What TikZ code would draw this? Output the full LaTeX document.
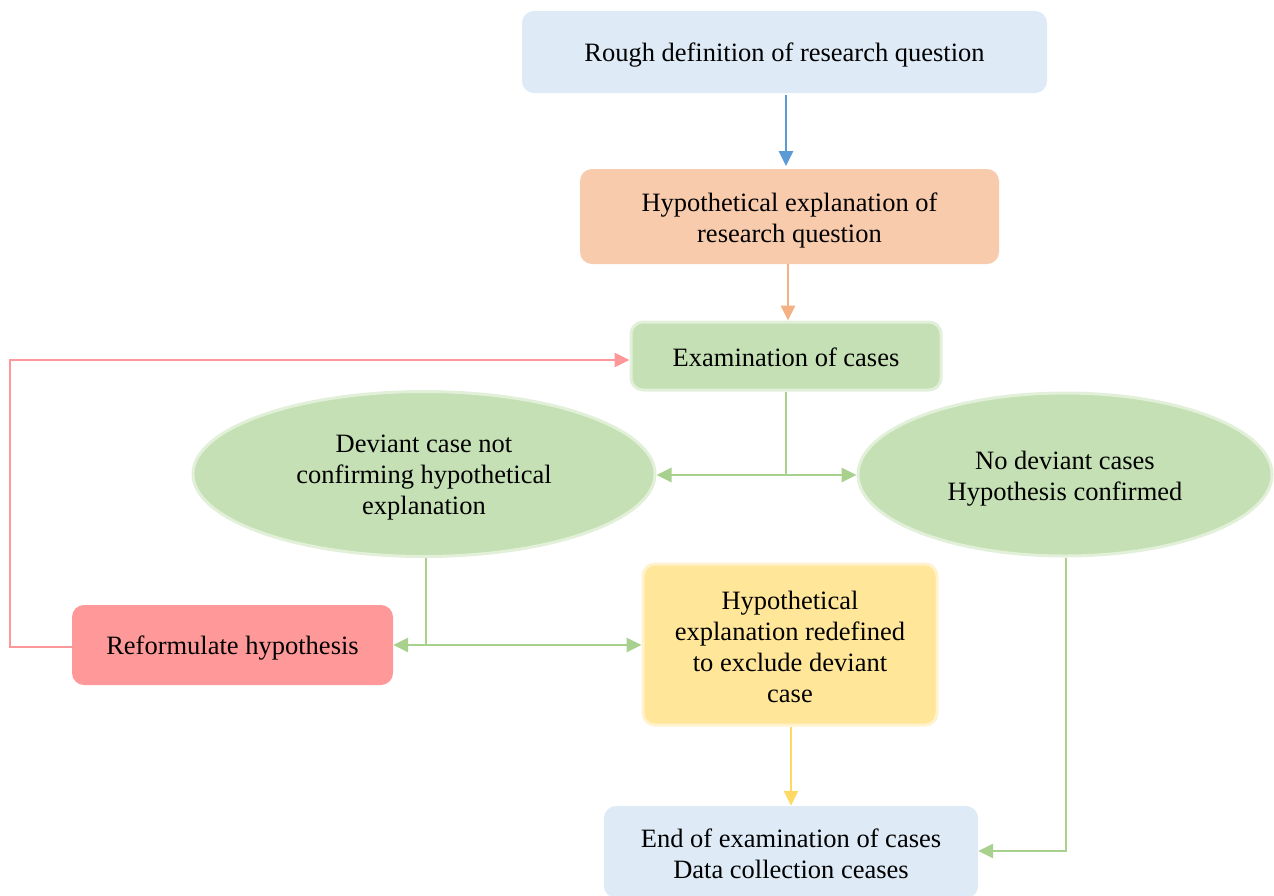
\documentclass[tikz,border=0pt]{standalone}
\usepackage{fontspec}
\setmainfont{Liberation Serif}
\usetikzlibrary{arrows.meta,shapes.geometric}
\definecolor{lblue}{HTML}{DEEAF6}
\definecolor{peach}{HTML}{F8CBAD}
\definecolor{lgreen}{HTML}{C5E0B4}
\definecolor{lgreenb}{HTML}{E2F0D9}
\definecolor{salmon}{HTML}{FF9999}
\definecolor{lyellow}{HTML}{FFE699}
\definecolor{lyellowb}{HTML}{FFF2CC}
\definecolor{ablue}{HTML}{5B9BD5}
\definecolor{aorange}{HTML}{F4B183}
\definecolor{agreen}{HTML}{A9D18E}
\definecolor{ared}{HTML}{FF9999}
\definecolor{ayellow}{HTML}{FFD966}
\begin{document}
\begin{tikzpicture}[x=1pt,y=-1pt,
  every node/.style={inner sep=0pt},
  txt/.style={font=\fontsize{26.5}{31}\selectfont, align=center},
  box/.style={rectangle, rounded corners=12pt},
  ell/.style={ellipse, fill=lgreen, draw=lgreenb, line width=3pt},
  conn/.style={line width=2.8pt, -{Triangle[length=15pt,width=14pt]}},
  conn2/.style={line width=2.8pt, {Triangle[length=15pt,width=14pt]}-{Triangle[length=15pt,width=14pt]}},
  plain/.style={line width=2.8pt}
]
\useasboundingbox (0,0) rectangle (1274,895);
\node[box, fill=lblue, minimum width=525pt, minimum height=82pt] (rough) at (784.5,52) {};
\node[box, fill=peach, minimum width=419pt, minimum height=95pt] (hypo) at (789.5,216.5) {};
\node[box, fill=lgreen, draw=lgreenb, line width=3pt, minimum width=310pt, minimum height=68pt] (exam) at (786,356) {};
\node[ell, minimum width=462pt, minimum height=165pt] (dev) at (424,474) {};
\node[ell, minimum width=414pt, minimum height=163pt] (nodev) at (1065,474.5) {};
\node[box, fill=salmon, minimum width=321pt, minimum height=80pt] (reform) at (232.5,645) {};
\node[box, fill=lyellow, draw=lyellowb, line width=3pt, minimum width=294pt, minimum height=161pt] (redef) at (790,644.5) {};
\node[box, fill=lblue, minimum width=374pt, minimum height=92pt] (endb) at (791,852) {};

\node[txt] (troughs) at ([yshift=-3pt]rough.center) {Rough definition of research question};
\node[txt] (thypo) at ([yshift=-3.5pt]hypo.center) {Hypothetical explanation of\\research question};
\node[txt] (texam) at ([yshift=-1.5pt]exam.center) {Examination of cases};
\node[txt] (tdev) at ([yshift=-4pt]dev.center) {Deviant case not\\confirming hypothetical\\explanation};
\node[txt] (tnodev) at ([yshift=-4.5pt]nodev.center) {No deviant cases\\Hypothesis confirmed};
\node[txt] (treform) at ([yshift=-3pt]reform.center) {Reformulate hypothesis};
\node[txt] (tredef) at ([yshift=-2pt]redef.center) {Hypothetical\\explanation redefined\\to exclude deviant\\case};
\node[txt] (tend) at ([yshift=-1.5pt]endb.center) {End of examination of cases\\Data collection ceases};

\coordinate (j1) at (786,475);
\coordinate (j2) at (426,645);
\coordinate (r1) at (10,647);
\coordinate (r2) at (10,360);
\coordinate (g1) at (1066,851);

\draw[conn, ablue] (786,95) -- (786,166);
\draw[conn, aorange] (hypo.south -| 788,0) -- (exam.north -| 788,0);
\draw[plain, agreen] (exam.south) -- (j1);
\draw[conn2, agreen] (dev.east |- j1) -- (nodev.west |- j1);
\draw[plain, agreen] (dev.south -| j2) -- (j2);
\draw[conn2, agreen] (reform.east |- j2) -- (redef.west |- j2);
\draw[conn, ared] (reform.west |- r1) -- (r1) -- (r2) -- (exam.west |- r2);
\draw[conn, ayellow] (redef.south -| 791,0) -- (endb.north -| 791,0);
\draw[conn, agreen] (nodev.south -| g1) -- (g1) -- (endb.east |- g1);
\end{tikzpicture}
\end{document}
